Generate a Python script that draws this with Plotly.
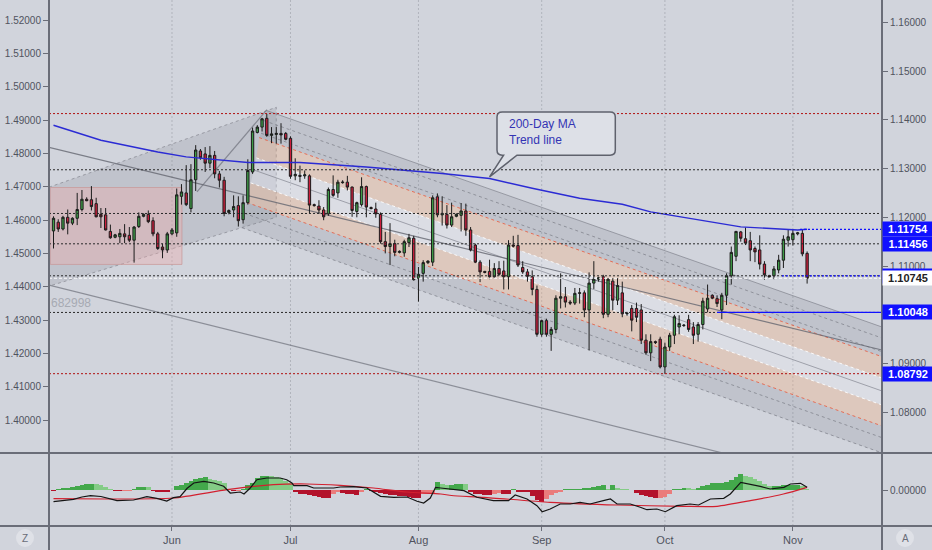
import pandas as pd
import plotly.graph_objects as go

# ---------------- data ----------------
_days = pd.date_range("2019-05-03", "2019-11-05", freq="D")
DATES = [d for d in _days if d.dayofweek != 5]          # feed has Sunday sessions, no Saturdays
X = list(range(len(DATES)))

OPEN = [1.1172,1.1190,1.1176,1.1200,1.1188,1.1198,1.1216,1.1237,1.1236,1.1228,
        1.1206,1.1205,1.1171,1.1159,1.1160,1.1166,1.1163,1.1153,1.1181,1.1202,
        1.1206,1.1193,1.1166,1.1139,1.1133,1.1166,1.1168,1.1243,1.1250,1.1218,
        1.1277,1.1336,1.1330,1.1311,1.1327,1.1289,1.1276,1.1210,1.1215,1.1224,
        1.1195,1.1230,1.1293,1.1374,1.1385,1.1403,1.1368,1.1370,1.1372,1.1372,
        1.1362,1.1285,1.1286,1.1285,1.1285,1.1226,1.1223,1.1215,1.1207,1.1257,
        1.1250,1.1271,1.1272,1.1262,1.1212,1.1226,1.1263,1.1220,1.1217,1.1206,
        1.1150,1.1140,1.1146,1.1128,1.1127,1.1148,1.1157,1.1075,1.1085,1.1107,
        1.1108,1.1242,1.1205,1.1206,1.1184,1.1202,1.1204,1.1213,1.1174,1.1143,
        1.1108,1.1089,1.1089,1.1078,1.1095,1.1090,1.1078,1.1143,1.1142,1.1097,
        1.1088,1.1078,1.1052,1.0960,1.0988,1.0960,1.0970,1.1034,1.1037,1.1026,
        1.1024,1.1044,1.1045,1.1010,1.1065,1.1073,1.1078,1.1001,1.1069,1.1030,
        1.1045,1.1002,1.1013,1.1013,1.1010,1.0948,1.0922,1.0945,1.0950,1.0893,
        1.0934,1.0958,1.0975,1.0979,1.0990,1.0975,1.0960,1.0980,1.1012,1.1040,
        1.1033,1.1010,1.1040,1.1080,1.1120,1.1170,1.1156,1.1152,1.1136,1.1133,
        1.1104,1.1080,1.1080,1.1092,1.1112,1.1153,1.1154,1.1166,1.1167,1.1126]
HIGH = [1.1202,1.1196,1.1203,1.1216,1.1200,1.1250,1.1256,1.1241,1.1264,1.1240,
        1.1219,1.1219,1.1185,1.1166,1.1176,1.1186,1.1180,1.1182,1.1210,1.1208,
        1.1214,1.1200,1.1170,1.1146,1.1170,1.1178,1.1259,1.1268,1.1307,1.1309,
        1.1348,1.1340,1.1344,1.1346,1.1336,1.1295,1.1283,1.1216,1.1245,1.1243,
        1.1245,1.1319,1.1384,1.1389,1.1404,1.1412,1.1385,1.1385,1.1393,1.1375,
        1.1366,1.1321,1.1306,1.1296,1.1288,1.1228,1.1235,1.1221,1.1261,1.1286,
        1.1277,1.1276,1.1285,1.1263,1.1232,1.1282,1.1265,1.1222,1.1230,1.1210,
        1.1170,1.1188,1.1154,1.1132,1.1154,1.1166,1.1162,1.1098,1.1112,1.1112,
        1.1245,1.1249,1.1243,1.1225,1.1230,1.1208,1.1229,1.1228,1.1180,1.1146,
        1.1112,1.1090,1.1113,1.1106,1.1110,1.1111,1.1153,1.1162,1.1164,1.1110,
        1.1094,1.1091,1.1060,1.0990,1.0992,1.0975,1.1040,1.1085,1.1057,1.1030,
        1.1055,1.1055,1.1050,1.1087,1.1110,1.1078,1.1082,1.1075,1.1075,1.1075,
        1.1068,1.1006,1.1020,1.1025,1.1022,1.0960,1.0960,1.0947,1.0955,1.0943,
        1.0963,1.1000,1.0999,1.0981,1.1000,1.0985,1.0985,1.1035,1.1062,1.1042,
        1.1040,1.1045,1.1085,1.1140,1.1172,1.1172,1.1179,1.1170,1.1140,1.1163,
        1.1110,1.1082,1.1100,1.1123,1.1163,1.1175,1.1176,1.1170,1.1175,1.1130]
LOW = [1.1136,1.1170,1.1173,1.1165,1.1184,1.1184,1.1212,1.1233,1.1214,1.1200,
       1.1178,1.1173,1.1156,1.1157,1.1147,1.1147,1.1149,1.1107,1.1178,1.1200,
       1.1188,1.1161,1.1133,1.1116,1.1127,1.1163,1.1160,1.1226,1.1223,1.1210,
       1.1254,1.1318,1.1293,1.1301,1.1280,1.1261,1.1202,1.1206,1.1200,1.1181,
       1.1187,1.1226,1.1289,1.1372,1.1376,1.1365,1.1352,1.1351,1.1351,1.1358,
       1.1279,1.1276,1.1272,1.1279,1.1208,1.1222,1.1208,1.1194,1.1203,1.1242,
       1.1240,1.1269,1.1255,1.1201,1.1200,1.1222,1.1200,1.1216,1.1199,1.1146,
       1.1126,1.1102,1.1120,1.1126,1.1119,1.1139,1.1070,1.1027,1.1068,1.1104,
       1.1100,1.1200,1.1183,1.1177,1.1180,1.1200,1.1171,1.1162,1.1130,1.1106,
       1.1067,1.1085,1.1073,1.1075,1.1080,1.1052,1.1052,1.1138,1.1098,1.1084,
       1.1068,1.1040,1.0955,1.0955,1.0955,1.0926,1.0962,1.1013,1.1015,1.1020,
       1.1020,1.1023,1.0995,1.0927,1.1053,1.1068,1.0993,1.0995,1.1009,1.1020,
       1.0995,1.0998,1.0966,1.0985,1.0940,1.0918,1.0905,1.0940,1.0890,1.0879,
       1.0926,1.0940,1.0960,1.0975,1.0965,1.0940,1.0945,1.0970,1.1005,1.1032,
       1.1016,1.0991,1.1020,1.1062,1.1110,1.1150,1.1143,1.1110,1.1108,1.1093,
       1.1072,1.1076,1.1073,1.1085,1.1096,1.1140,1.1142,1.1163,1.1120,1.1064]
CLOSE = [1.1198,1.1176,1.1200,1.1188,1.1198,1.1216,1.1237,1.1234,1.1222,1.1201,
         1.1201,1.1174,1.1158,1.1164,1.1167,1.1160,1.1153,1.1180,1.1202,1.1206,
         1.1191,1.1166,1.1136,1.1133,1.1166,1.1174,1.1246,1.1252,1.1226,1.1277,
         1.1338,1.1322,1.1311,1.1327,1.1289,1.1276,1.1208,1.1214,1.1222,1.1193,
         1.1230,1.1296,1.1377,1.1385,1.1402,1.1368,1.1371,1.1372,1.1369,1.1360,
         1.1284,1.1288,1.1284,1.1287,1.1225,1.1224,1.1215,1.1201,1.1257,1.1245,
         1.1272,1.1272,1.1262,1.1214,1.1230,1.1263,1.1221,1.1218,1.1207,1.1150,
         1.1140,1.1146,1.1128,1.1130,1.1150,1.1158,1.1072,1.1083,1.1107,1.1110,
         1.1240,1.1205,1.1208,1.1184,1.1201,1.1206,1.1213,1.1174,1.1133,1.1108,
         1.1088,1.1087,1.1078,1.1095,1.1083,1.1078,1.1143,1.1141,1.1102,1.1088,
         1.1079,1.1052,1.0960,1.0988,1.0960,1.0970,1.1034,1.1037,1.1026,1.1024,
         1.1044,1.1045,1.1010,1.1065,1.1073,1.1076,1.1001,1.1073,1.1030,1.1060,
         1.1002,1.1003,1.0989,1.0995,1.0948,1.0922,1.0945,1.0943,1.0893,1.0934,
         1.0958,1.0996,1.0982,1.0978,1.0970,1.0958,1.0980,1.1028,1.1034,1.1034,
         1.1023,1.1040,1.1080,1.1128,1.1171,1.1157,1.1147,1.1133,1.1129,1.1104,
         1.1082,1.1078,1.1094,1.1112,1.1155,1.1160,1.1167,1.1168,1.1125,1.1075]

# 200-day moving average (at selected bars)
MA_IDX = [0, 10, 22, 28, 41, 52, 66, 82, 92, 101, 111, 120, 126, 136, 145, 157, 159]
MA_VAL = [1.13887,1.13580,1.13340,1.13238,1.13123,1.13123,1.13033,1.12898,1.12795,
          1.12596,1.12391,1.12268,1.12111,1.11955,1.11803,1.11740,1.11754]

# lower indicator pane
HIST = [-0.5,1,2,2.5,3,4,5.3,5.8,6,5.8,5.3,3,0.5,-0.5,-0.8,-0.6,-0.3,0.5,3,3.2,
        3,-1,-1.5,-2,-2,0,3.7,5.3,7,8.7,11.3,12,12.7,11.3,10.3,9,7,0.5,-1,-0.5,
        0.5,5,7,12,13.7,14,13.7,13,12,9,7,-1.3,-4,-4,-5,-6.3,-7.3,-7.8,-8,-4,
        -2,-3,-4,-4,-5.3,-2,0.7,-0.7,-2,-3,-4,-5.3,-5.3,-5.8,-6.3,-7.3,-7.8,-8,-4,-3.5,
        -3,8,6.5,5.3,5.5,6,6.5,6,-2.3,-3.5,-4,-4.5,-5,-4,-3,-3.5,-4,1,-2.3,-2.3,
        -2.3,-6.3,-9.7,-11.7,-9,-5,-3,-1.7,1,1,1,1,1.7,2.5,3.3,4,5,1,5,2,
        1,0.5,0,-3,-5,-6,-7.3,-8.3,-8,-7.3,-4,0.3,1,1.7,1.3,1,2.5,4.3,5.5,7,
        7,7,8.5,10.3,13,16,14,12.7,11,9.3,6,3.7,4,4.3,4.6,5,5,5,3.7,1]
MACD_IDX = [0,2,4.2,6,7.8,10,11.3,13.4,16.9,19.7,21.8,23.9,25.3,26.7,28.2,29.6,31.7,33.8,
            35.9,37.3,39.4,40.2,41.5,42.9,45,47.8,49.2,50.3,50.7,53.5,54.9,57.7,59.1,60.5,
            63.3,66.1,69,71.8,74.6,76.7,78.1,79.5,80.6,81.7,84.4,86.6,89.3,92.8,96,97.4,
            99.9,102,103.1,104.8,106.9,109,111.1,113.2,116,117.5,118.9,121.7,123.8,125.2,
            127.3,129.1,131.5,134.3,136.1,138.6,141.4,142.8,145,147,149.1,151.2,154.1,
            155.5,157.6,159]
MACD_VAL = [-11.7,-10.5,-9.3,-7,-5.7,-6.5,-8.3,-10.7,-10,-6.7,-8.3,-11,-7.7,-6.7,1.7,7,8.7,7,
            3.7,-3,-2,-4,2,10.3,12,12,10.3,7,4.3,4.3,2,2,2,3,
            3.3,2,-6.3,-7.3,-7,-11.3,-13,-8,2.7,2,0.3,-0.7,-7.3,-10.7,-10.7,-5,
            -9,-15.7,-21.7,-19,-14,-14,-12.3,-14,-10.7,-9,-14,-14,-17.3,-19.7,
            -19,-21.7,-15.7,-14,-15,-9,-8.3,-4,7.7,6,3.7,1,2.7,
            6,6.7,2.7]
SIG_IDX = [0,11.3,25.3,36.6,46.4,53.5,60.5,67.5,74.6,81.7,84,90.8,104.8,118.9,133,140,147,154,159]
SIG_VAL = [-8.7,-9,-8,0.3,5.3,6,4.7,2,-2,-4,-5.5,-7.3,-12.3,-15,-16.3,-16.3,-10.7,-4,2.7]
IND_UNIT = 0.0001

# axis ticks
RIGHT_TICKS = [1.08, 1.09, 1.10, 1.11, 1.12, 1.13, 1.14, 1.15, 1.16]
LEFT_TICKS = [1.40, 1.41, 1.42, 1.43, 1.44, 1.45, 1.46, 1.47, 1.48, 1.49, 1.50, 1.51, 1.52]
RIGHT_RANGE = [1.07165, 1.16457]
LEFT_RANGE = [1.3901, 1.5260]
X_RANGE = [-0.95, 174.8]

# drawn horizontal levels
LEVELS = [1.14127, 1.12975, 1.12078, 1.11456, 1.10800, 1.10048, 1.08792]
LEVEL_KIND = ["red", "blk", "blk", "blk", "blk", "blk", "red"]
BLUE_SEGS = [(157.5, 1.11754, "dot"), (153.7, 1.10800, "dot"), (140.0, 1.10048, "solid")]
PRICE_TAGS = [(1.11754, "1.11754", "blue"), (1.11456, "1.11456", "blue"),
              (1.10800, " ", "blue"), (CLOSE[-1], "1.10745", "white"),
              (1.10048, "1.10048", "blue"), (1.08792, "1.08792", "blue")]

# pitchfork (levels at anchor bar, common slope per bar, start bar of each tine)
PF_ANCHOR = 52
PF_SLOPE = -0.000342
PF_LEVELS = [1.13949, 1.13723, 1.13443, 1.13340, 1.12904, 1.12637, 1.12350, 1.11920, 1.11680, 1.11367]
PF_START = [45.0, 44.4, 43.8, 43.4, 42.8, 42.3, 41.6, 40.8, 40.3, 39.8]
PF_FILL = ["g", "g", "g", "o", "w", "w", "o", "g", "g"]
PF_STYLE = ["gs", "gd", "gd", "rd", "wd", "gs", "wd", "rd", "gd", "gd"]

# other drawings
WEDGE = [(-0.95, 1.12617), (47.0, 1.14256), (47.0, 1.12002), (-0.95, 1.10588)]
HANDLE = [(30.27, 1.12521), (45.04, 1.14209)]
TREND_A = [(-0.95, 1.13436), (174.8, 1.09277)]
TREND_B = [(-0.95, 1.10609), (174.8, 1.06350)]
PINK_BOX = [(-0.68, 1.12611), (27.1, 1.11033)]
CALLOUT = dict(x0=93.57, x1=118.53, ytop=1.14160, ybot=1.13273,
               b0=94.96, b1=97.78, tipx=92.0, tipy=1.12828, rx=1.1, ry=0.00105)

# ---------------- figure ----------------
BG = "#d1d4dc"
AX = "#50535e"
FONT = "Liberation Sans"

fig = go.Figure()

fig.add_trace(go.Candlestick(
    x=X, open=OPEN, high=HIGH, low=LOW, close=CLOSE,
    increasing=dict(line=dict(color="#1c1c1c", width=1), fillcolor="#3e9c47"),
    decreasing=dict(line=dict(color="#1c1c1c", width=1), fillcolor="#cc1f3d"),
    whiskerwidth=0, xaxis="x", yaxis="y", hoverinfo="skip", showlegend=False))

fig.add_trace(go.Scatter(x=MA_IDX, y=MA_VAL, mode="lines", line=dict(color="#2b2bd4", width=1.4),
                         xaxis="x", yaxis="y", hoverinfo="skip", showlegend=False))

# helper trace so the left (second symbol) scale is drawn
fig.add_trace(go.Scatter(x=[X[0]], y=[LEFT_RANGE[0]], mode="markers", marker=dict(opacity=0),
                         xaxis="x", yaxis="y2", hoverinfo="skip", showlegend=False))

# indicator histogram
hcol = []
for i, v in enumerate(HIST):
    prev = HIST[i - 1] if i > 0 else v
    if v >= 0:
        hcol.append("#43a84b" if v >= prev else "#84cc86")
    else:
        hcol.append("#b3122b" if v <= prev else "#ea7c7c")
fig.add_trace(go.Bar(x=X, y=[v * IND_UNIT for v in HIST], marker=dict(color=hcol, line=dict(width=0)),
                     width=1.0, xaxis="x", yaxis="y3", hoverinfo="skip", showlegend=False))
fig.add_trace(go.Scatter(x=SIG_IDX, y=[v * IND_UNIT for v in SIG_VAL], mode="lines",
                         line=dict(color="#d2202f", width=1.2, shape="spline", smoothing=0.6),
                         xaxis="x", yaxis="y3", hoverinfo="skip", showlegend=False))
fig.add_trace(go.Scatter(x=MACD_IDX, y=[v * IND_UNIT for v in MACD_VAL], mode="lines",
                         line=dict(color="#151515", width=1.2),
                         xaxis="x", yaxis="y3", hoverinfo="skip", showlegend=False))

shapes = []

def poly(pts, fill, line=None, layer="below"):
    d = "M " + " L ".join(f"{a:.4f},{b:.6f}" for a, b in pts) + " Z"
    shapes.append(dict(type="path", path=d, xref="x", yref="y", fillcolor=fill,
                       line=line or dict(width=0), layer=layer))

# left rising wedge
poly(WEDGE, "rgba(125,128,138,0.20)", dict(color="rgba(120,120,130,0.6)", width=1, dash="dot"))
# pink box
(px0, py0), (px1, py1) = PINK_BOX
shapes.append(dict(type="rect", xref="x", yref="y", x0=px0, x1=px1, y0=py0, y1=py1,
                   fillcolor="rgba(238,170,170,0.38)", line=dict(color="rgba(200,150,150,0.7)", width=1),
                   layer="below"))

# pitchfork bands
def pf_y(k, x):
    return PF_LEVELS[k] + PF_SLOPE * (x - PF_ANCHOR)

XEND = X_RANGE[1] + 1
fillmap = {"g": "rgba(125,128,140,0.20)", "o": "rgba(246,176,128,0.33)", "w": "rgba(245,245,250,0.28)"}
for k in range(len(PF_LEVELS) - 1):
    a, b = PF_START[k], PF_START[k + 1]
    poly([(a, pf_y(k, a)), (XEND, pf_y(k, XEND)), (XEND, pf_y(k + 1, XEND)), (b, pf_y(k + 1, b))],
         fillmap[PF_FILL[k]])
stylemap = {"gs": dict(color="rgba(110,112,122,0.55)", width=1),
            "gd": dict(color="rgba(110,112,122,0.6)", width=1, dash="dot"),
            "rd": dict(color="rgba(235,80,50,0.75)", width=1, dash="dot"),
            "wd": dict(color="rgba(255,255,255,0.85)", width=1, dash="dot")}
for k in range(len(PF_LEVELS)):
    a = PF_START[k]
    shapes.append(dict(type="line", xref="x", yref="y", x0=a, y0=pf_y(k, a), x1=XEND, y1=pf_y(k, XEND),
                       line=stylemap[PF_STYLE[k]], layer="below"))

# handle and long trend lines
for (p0, p1), col in [(HANDLE, "rgba(110,112,122,0.7)"), (TREND_A, "rgba(100,102,112,0.8)"),
                      (TREND_B, "rgba(110,112,122,0.7)")]:
    shapes.append(dict(type="line", xref="x", yref="y", x0=p0[0], y0=p0[1], x1=p1[0], y1=p1[1],
                       line=dict(color=col, width=1.2), layer="below"))

# horizontal levels
for lv, kind in zip(LEVELS, LEVEL_KIND):
    col = "#b01010" if kind == "red" else "#2a2a2a"
    shapes.append(dict(type="line", xref="paper", yref="y", x0=0, x1=1, y0=lv, y1=lv,
                       line=dict(color=col, width=1, dash="2px,2px"), layer="above"))
for x0, lv, ds in BLUE_SEGS:
    shapes.append(dict(type="line", xref="x", yref="y", x0=x0, x1=X_RANGE[1], y0=lv, y1=lv,
                       line=dict(color="#1010ff", width=1.2, dash="2px,2px" if ds == "dot" else "solid"),
                       layer="above"))
# current price line
shapes.append(dict(type="line", xref="paper", yref="y", x0=0, x1=1, y0=CLOSE[-1], y1=CLOSE[-1],
                   line=dict(color="#ffffff", width=1, dash="3px,2px"), layer="above"))

# callout
c = CALLOUT
d = (f"M {c['x0']+c['rx']},{c['ytop']} L {c['x1']-c['rx']},{c['ytop']} "
     f"Q {c['x1']},{c['ytop']} {c['x1']},{c['ytop']-c['ry']} L {c['x1']},{c['ybot']+c['ry']} "
     f"Q {c['x1']},{c['ybot']} {c['x1']-c['rx']},{c['ybot']} L {c['b1']},{c['ybot']} "
     f"L {c['tipx']},{c['tipy']} L {c['b0']},{c['ybot']} L {c['x0']+c['rx']},{c['ybot']} "
     f"Q {c['x0']},{c['ybot']} {c['x0']},{c['ybot']+c['ry']} L {c['x0']},{c['ytop']-c['ry']} "
     f"Q {c['x0']},{c['ytop']} {c['x0']+c['rx']},{c['ytop']} Z")
shapes.append(dict(type="path", path=d, xref="x", yref="y", fillcolor="#dde0e7",
                   line=dict(color="#5f626d", width=1.5), layer="above"))

# month grid lines
month_idx, month_txt = [], []
for i in range(1, len(DATES)):
    if DATES[i].month != DATES[i - 1].month:
        month_idx.append(X[i]); month_txt.append(DATES[i].strftime("%b"))
for mi in month_idx:
    shapes.append(dict(type="line", xref="x", yref="paper", x0=mi, x1=mi, y0=0, y1=1,
                       line=dict(color="rgba(150,153,163,0.55)", width=1, dash="2px,2px"), layer="below"))

# pane frame lines
PW, PH = 833, 526
def px_x(v): return v / PW
def px_y(v): return (PH - v) / PH
frame = "#6a6d78"
for xv in (0, PW):
    shapes.append(dict(type="line", xref="paper", yref="paper", x0=px_x(xv), x1=px_x(xv),
                       y0=px_y(550), y1=1, line=dict(color=frame, width=2), layer="above"))
for yv in (453, 526):
    shapes.append(dict(type="line", xref="paper", yref="paper", x0=px_x(-49), x1=px_x(883),
                       y0=px_y(yv), y1=px_y(yv), line=dict(color=frame, width=2), layer="above"))
# corner buttons
for cx in (-24, 856):
    shapes.append(dict(type="circle", xref="paper", yref="paper", x0=px_x(cx - 9), x1=px_x(cx + 9),
                       y0=px_y(547), y1=px_y(529), fillcolor="#dfe1e7", line=dict(width=0), layer="above"))

annotations = []
annotations.append(dict(x=95.7, y=1.13754, xref="x", yref="y", xanchor="left", yanchor="middle",
                        text="200-Day MA<br>Trend line", showarrow=False, align="left",
                        font=dict(family=FONT, size=12, color="#3434b4")))
annotations.append(dict(x=0, y=1.10240, xref="paper", yref="y", xanchor="left", yanchor="middle",
                        text="682998", showarrow=False, font=dict(family=FONT, size=12, color="#a7aab3")))
for val, txt, kind in PRICE_TAGS:
    annotations.append(dict(x=1, y=val, xref="paper", yref="y", xanchor="left", yanchor="middle",
                            text=f"<b>{txt}</b>", showarrow=False, width=48, height=12, borderpad=1,
                            bgcolor="#1010ff" if kind == "blue" else "#ffffff",
                            font=dict(family=FONT, size=11, color="#ffffff" if kind == "blue" else "#222222")))
for cx, t in ((-24, "Z"), (856, "A")):
    annotations.append(dict(x=px_x(cx), y=px_y(538), xref="paper", yref="paper", text=t,
                            xanchor="center", yanchor="middle",
                            showarrow=False, font=dict(family=FONT, size=10, color="#6a6d78")))

tickfont = dict(family=FONT, size=10, color=AX)
fig.update_layout(
    width=932, height=550, margin=dict(l=49, r=50, t=0, b=24, autoexpand=False),
    paper_bgcolor=BG, plot_bgcolor=BG, showlegend=False, bargap=0, hovermode=False,
    shapes=shapes, annotations=annotations,
    xaxis=dict(domain=[0, 1], range=X_RANGE, anchor="y3", tickvals=month_idx, ticktext=month_txt,
               ticks="outside", ticklen=4, tickcolor=frame, tickfont=dict(family=FONT, size=11, color=AX),
               showgrid=False, zeroline=False, showline=False, rangeslider=dict(visible=False),
               fixedrange=True, automargin=False),
    yaxis=dict(domain=[73 / 526, 1], range=RIGHT_RANGE, side="right", anchor="x", tickvals=RIGHT_TICKS,
               tickformat=".5f", ticks="outside", ticklen=5, tickcolor=frame, tickfont=tickfont,
               showgrid=False, zeroline=False, showline=False, automargin=False),
    yaxis2=dict(overlaying="y", range=LEFT_RANGE, side="left", anchor="x", tickvals=LEFT_TICKS,
                tickformat=".5f", ticks="outside", ticklen=5, tickcolor=frame, tickfont=tickfont,
                showgrid=False, zeroline=False, showline=False, automargin=False),
    yaxis3=dict(domain=[0, 72 / 526], range=[-0.0036, 0.0036], side="right", anchor="x",
                tickvals=[0], ticktext=["0.00000"], ticks="outside", ticklen=5, tickcolor=frame,
                tickfont=tickfont, showgrid=False, zeroline=False, showline=False, automargin=False),
)

fig.write_html("out.html", config=dict(displayModeBar=False),
               post_script="document.body.style.margin='0';document.body.style.overflow='hidden';"
                           "document.body.style.background='" + BG + "';")
